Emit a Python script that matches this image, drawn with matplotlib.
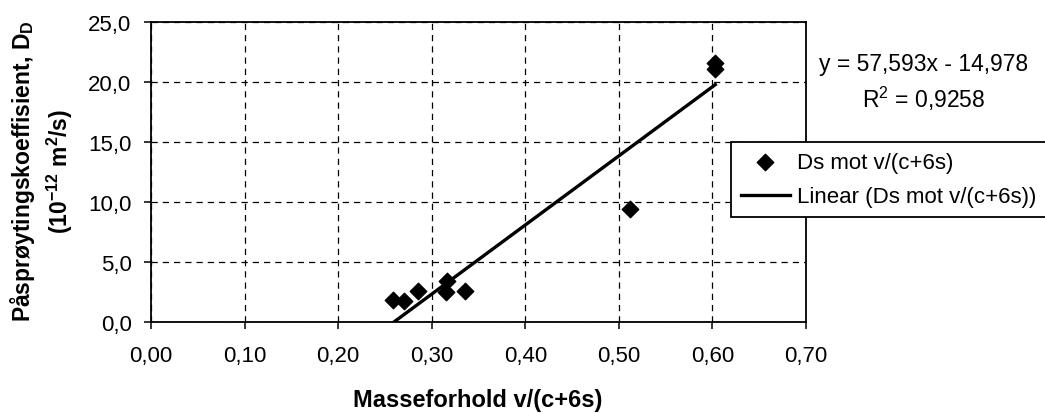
import matplotlib.pyplot as plt
import numpy as np

plt.rcParams['font.family'] = ['Liberation Sans', 'DejaVu Sans']

# measured points: mass ratio v/(c+6s) and injection coefficient D
ratio = [0.259, 0.270, 0.285, 0.315, 0.316, 0.336, 0.512, 0.603, 0.603]
coeff = [1.8, 1.7, 2.6, 2.5, 3.4, 2.6, 9.4, 21.1, 21.6]

# linear trend line (as reported)
slope, intercept = 57.593, -14.978
r2 = 0.9258

xticks = [0.0, 0.1, 0.2, 0.3, 0.4, 0.5, 0.6, 0.7]
yticks = [0, 5, 10, 15, 20, 25]

W, H = 1045, 414
fig = plt.figure(figsize=(W / 100, H / 100), dpi=100)
ax = fig.add_axes([151 / W, (H - 322.7) / H, (806 - 151) / W, 300 / H])

ax.scatter(ratio, coeff, marker='D', s=70, color='black', zorder=3,
           label='Ds mot v/(c+6s)')
x0 = -intercept / slope
xs = np.array([x0, max(ratio)])
ax.plot(xs, slope * xs + intercept, color='black', lw=2.4, zorder=3,
        label='Linear (Ds mot v/(c+6s))')

ax.set_xlim(0, 0.7)
ax.set_ylim(0, 25)
ax.set_xticks(xticks)
ax.set_yticks(yticks)
ax.set_xticklabels([f'{v:.2f}'.replace('.', ',') for v in xticks], fontsize=16)
ax.set_yticklabels([f'{v:.1f}'.replace('.', ',') for v in yticks], fontsize=16)
ax.tick_params(direction='out', length=5, width=1.1, color='black')
ax.tick_params(axis='x', pad=12)
ax.tick_params(axis='y', pad=9)
ax.grid(True, color='black', ls=(0, (5, 4)), lw=0.9)
for s in ax.spines.values():
    s.set_linewidth(1.3)

# axis titles
fig.text(478 / W, 1 - 401 / H, 'Masseforhold v/(c+6s)', ha='center', va='center',
         fontsize=17, fontweight='bold')
fig.text(23 / W, 1 - 171 / H, 'Påsprøytingskoeffisient, D$_\\mathregular{D}$',
         ha='center', va='center', rotation=90, fontsize=16.5, fontweight='bold')
fig.text(60 / W, 1 - 171 / H, '(10$^\\mathregular{-12}$ m$^\\mathregular{2}$/s)',
         ha='center', va='center', rotation=90, fontsize=16.5, fontweight='bold')

fig.text(924 / W, 1 - 65 / H, f'y = {slope:.3f}x - {abs(intercept):.3f}'.replace('.', ','),
         ha='center', va='center', fontsize=16.5)
fig.text(924 / W, 1 - 99 / H, 'R$^\\mathregular{2}$ = ' + f'{r2:.4f}'.replace('.', ','),
         ha='center', va='center', fontsize=16.5)

leg = fig.legend(loc='upper left', bbox_to_anchor=(731 / W, 1 - 143 / H),
                 fontsize=16, frameon=True, fancybox=False, edgecolor='black',
                 framealpha=1, borderpad=0.45, borderaxespad=0, handlelength=2.2,
                 handletextpad=0.3, labelspacing=0.6)
leg.get_frame().set_linewidth(1.3)

fig.savefig('out.png', dpi=100)
